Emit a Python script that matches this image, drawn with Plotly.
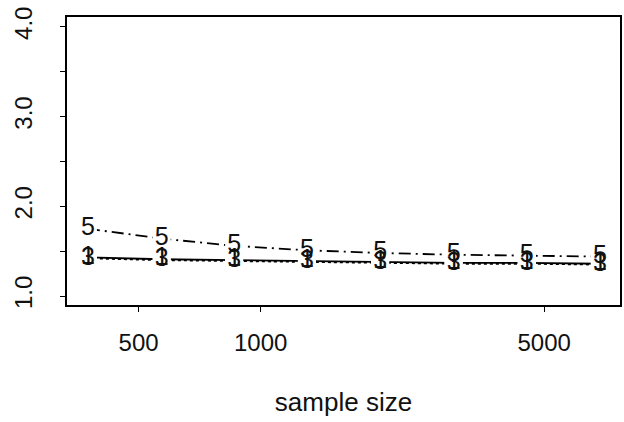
import plotly.graph_objects as go
import math

sample_size = [375, 570, 860, 1300, 1970, 2990, 4530, 6860]
series_1 = [1.43, 1.41, 1.40, 1.39, 1.38, 1.37, 1.37, 1.36]
series_3 = [1.42, 1.40, 1.39, 1.38, 1.37, 1.36, 1.36, 1.35]
series_5 = [1.75, 1.64, 1.56, 1.51, 1.48, 1.46, 1.45, 1.44]
labels = ["1", "3", "5"]
dashes = ["solid", "dot", "12px,5px,2px,5px"]

x_ticks = [500, 1000, 5000]
y_ticks = [1.0, 1.5, 2.0, 2.5, 3.0, 3.5, 4.0]
y_ticktext = ["1.0", "", "2.0", "", "3.0", "", "4.0"]

series = [series_1, series_3, series_5]
font = "Liberation Sans, Arial, sans-serif"

fig = go.Figure()
for ys, d in zip(series, dashes):
    fig.add_trace(go.Scatter(x=sample_size, y=ys, mode="lines",
                             line=dict(color="black", width=1.8, dash=d),
                             hoverinfo="skip", showlegend=False))
for ys in series:
    fig.add_trace(go.Scatter(x=sample_size, y=ys, mode="markers",
                             marker=dict(symbol="square", size=18, color="white",
                                         line=dict(width=0)),
                             hoverinfo="skip", showlegend=False))
for ys, lab in zip(series, labels):
    fig.add_trace(go.Scatter(x=sample_size, y=ys, mode="text",
                             text=[lab] * len(ys), textposition="middle center",
                             textfont=dict(family=font, size=25, color="#111"),
                             hoverinfo="skip", showlegend=False))

fig.update_layout(
    width=624, height=422,
    margin=dict(l=67, r=2, t=17, b=117),
    paper_bgcolor="white", plot_bgcolor="white",
    font=dict(family=font, size=24, color="#111"),
)
fig.update_xaxes(
    type="log", range=[math.log10(333), math.log10(7690)],
    tickvals=x_ticks, ticktext=[str(v) for v in x_ticks],
    ticks="outside", ticklen=5, tickwidth=1.2, tickcolor="black",
    showline=True, linecolor="black", linewidth=1.8, mirror=True,
    showgrid=False, zeroline=False,
    ticklabelstandoff=10,
    title=dict(text="sample size", font=dict(size=26), standoff=38),
)
fig.update_yaxes(
    range=[0.9, 4.11],
    tickvals=y_ticks, ticktext=y_ticktext, tickangle=-90,
    ticks="outside", ticklen=5, tickwidth=1.2, tickcolor="black",
    showline=True, linecolor="black", linewidth=1.8, mirror=True,
    showgrid=False, zeroline=False,
    ticklabelstandoff=19,
)

fig.write_html("out.html")
